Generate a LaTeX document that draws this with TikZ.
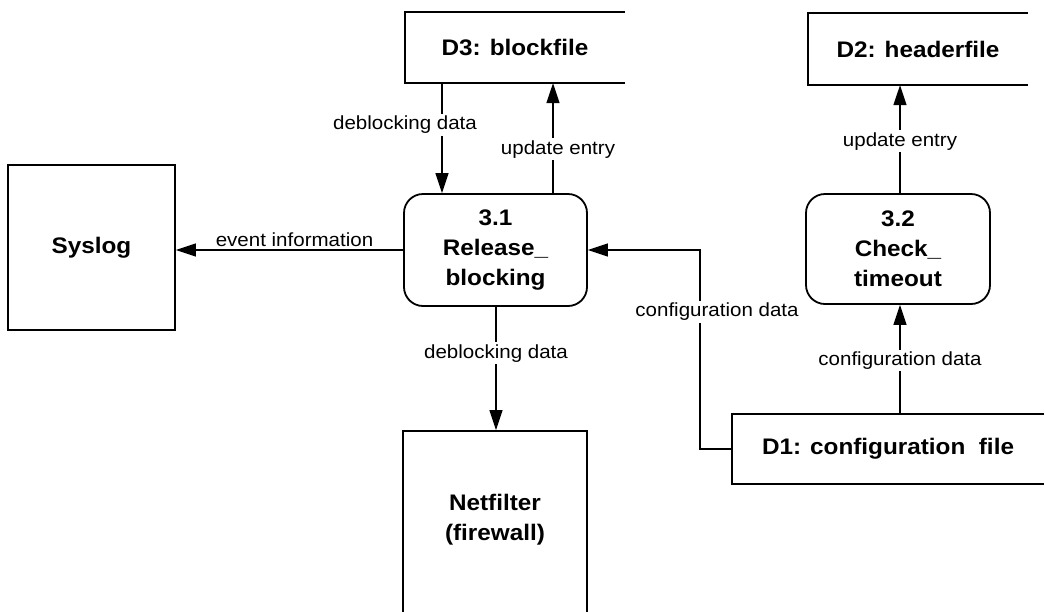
\documentclass[tikz,border=0pt]{standalone}
\usepackage{fontspec}
\setmainfont{Liberation Sans}[FakeStretch=1.08]
\usetikzlibrary{arrows.meta}
\tikzset{
  boxtext/.style={font=\fontsize{22.5}{30}\selectfont\bfseries, align=center, inner sep=0pt},
  entity/.style={boxtext, draw, line width=1.8pt},
  process/.style={boxtext, draw, line width=1.8pt, rounded corners=19pt},
  store/.style={boxtext},
  storeline/.style={line width=1.8pt},
  flow/.style={line width=1.4pt, -{Triangle[length=20pt,width=13pt]}},
  flowlabel/.style={font=\fontsize{19}{22}\selectfont, fill=white, inner sep=2pt},
}
\begin{document}
\begin{tikzpicture}[x=1pt,y=-1pt]
\useasboundingbox (0,0) rectangle (1045,611);
% nodes
\node[entity, minimum width=167pt, minimum height=165pt] (syslog) at (91.5,247.5) {Syslog};
\node[process, minimum width=183pt, minimum height=112pt] (p31) at (495.5,250) {3.1\\Release\_\\blocking};
\node[process, minimum width=184pt, minimum height=110pt] (p32) at (898,249) {3.2\\Check\_\\timeout};
\node[entity, minimum width=184pt, minimum height=189pt] (net) at (495,525.5) {};
\node[boxtext] (netlabel) at (495,520) {Netfilter\\(firewall)};
\node[store, minimum width=220pt, minimum height=71pt] (d3) at (515,47.5) {D3: blockfile};
\node[store, minimum width=220pt, minimum height=72pt] (d2) at (918,49) {D2: headerfile};
\node[store, minimum width=312pt, minimum height=70pt] (d1) at (888,449) {D1: configuration\ \ file};
% open-ended data stores
\draw[storeline] (d3.north east) -- (d3.north west) -- (d3.south west) -- (d3.south east);
\draw[storeline] (d2.north east) -- (d2.north west) -- (d2.south west) -- (d2.south east);
\draw[storeline] (d1.north east) -- (d1.north west) -- (d1.south west) -- (d1.south east);
% helper coordinates
\coordinate (a1) at (442,0);
\coordinate (a2) at (553,0);
\coordinate (a3) at (496,0);
\coordinate (c1) at (700,0);
\coordinate (c2) at (900,0);
% connectors
\draw[flow] (a1 |- d3.south) -- node[flowlabel, pos=0.38, xshift=-37pt] {deblocking data} (a1 |- p31.north);
\draw[flow] (a2 |- p31.north) -- node[flowlabel, pos=0.40, xshift=5pt] {update entry} (a2 |- d3.south);
\draw[flow] (p31.west) -- node[font=\fontsize{19}{22}\selectfont, above, inner sep=3pt, xshift=5pt] {event information} (p31.west -| syslog.east);
\draw[flow] (a3 |- p31.south) -- node[flowlabel, pos=0.376] {deblocking data} (a3 |- net.north);
\draw[flow] (d1.west) -- (c1 |- d1.west) -- node[flowlabel, pos=0.69, xshift=17pt] {configuration data} (c1 |- p31.east) -- (p31.east);
\draw[flow] (c2 |- d1.north) -- node[flowlabel, pos=0.49] {configuration data} (c2 |- p32.south);
\draw[flow] (c2 |- p32.north) -- node[flowlabel, pos=0.48] {update entry} (c2 |- d2.south);
\end{tikzpicture}
\end{document}
